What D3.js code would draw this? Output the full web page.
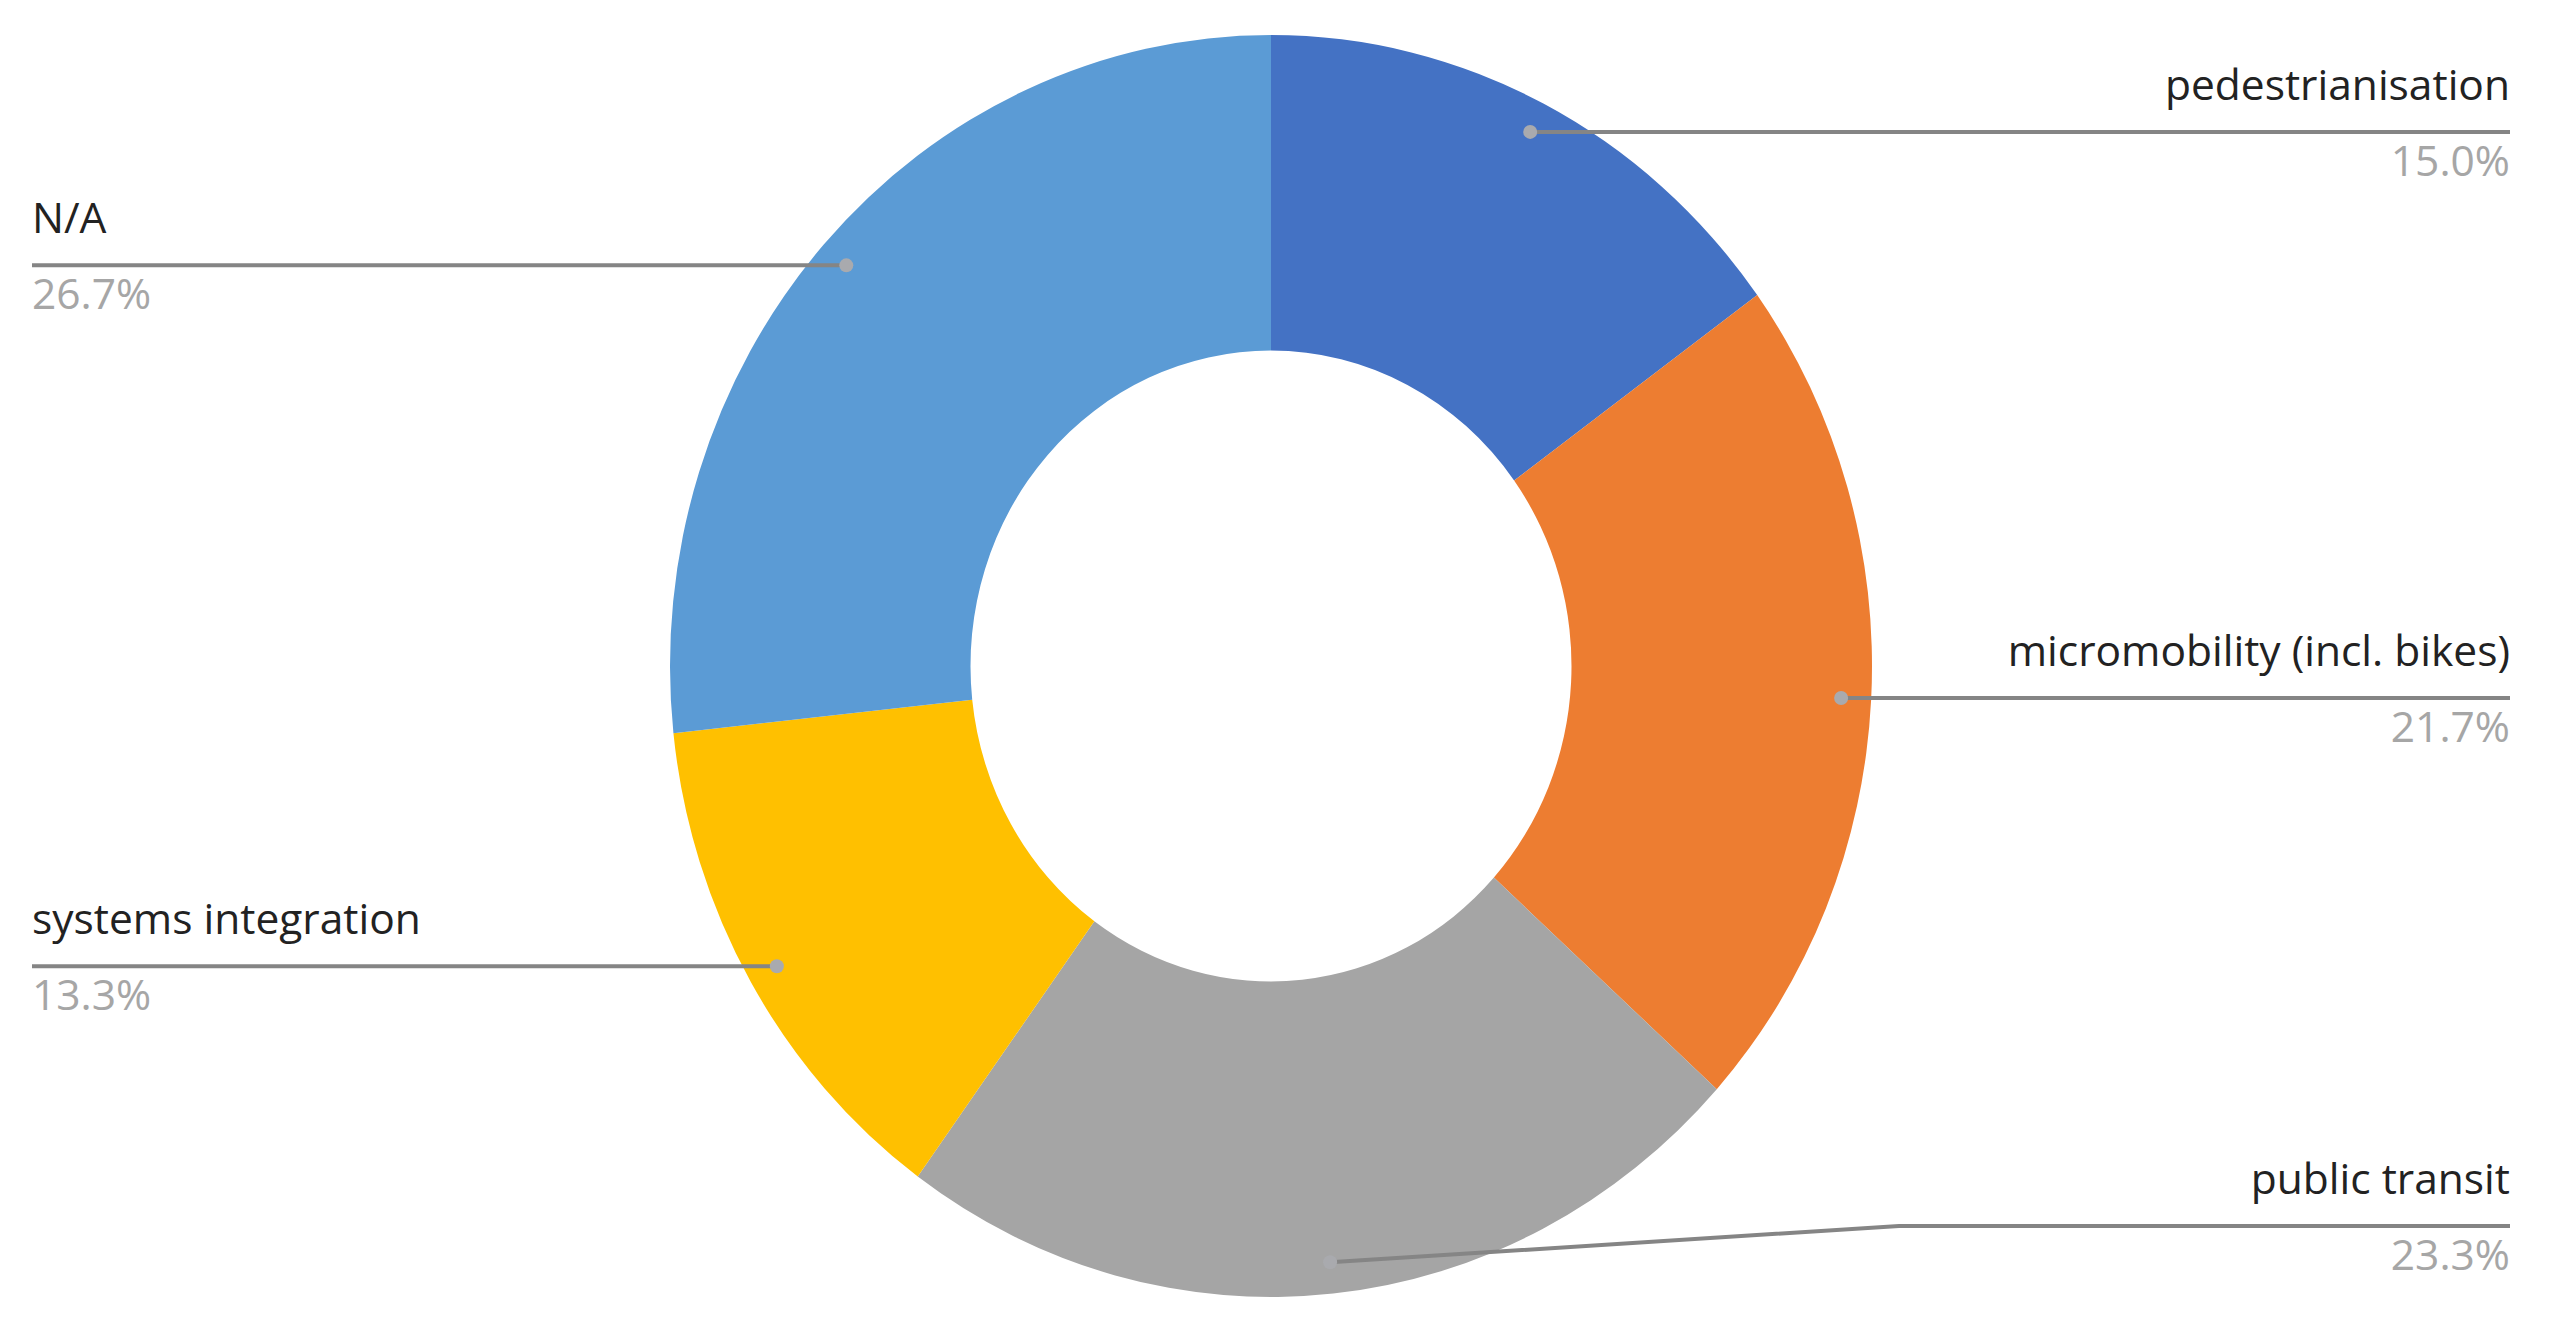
<!DOCTYPE html>
<html>
<head>
<meta charset="utf-8">
<script src="https://cdn.jsdelivr.net/npm/d3@7"></script>
<style>
  html, body { margin: 0; padding: 0; background: #ffffff; }
  svg { display: block; }
</style>
</head>
<body>
<svg id="chart" width="2556" height="1344"></svg>
<script>
// ---- data ----
const categories = ["pedestrianisation", "micromobility (incl. bikes)", "public transit", "systems integration", "N/A"];
const values = [15.0, 21.7, 23.3, 13.3, 26.7];
const percentLabels = ["15.0%", "21.7%", "23.3%", "13.3%", "26.7%"];
const colors = ["#4472C4", "#ED7D31", "#A5A5A5", "#FFC000", "#5B9BD5"];

// ---- layout ----
const W = 2556, H = 1344;
const cx = 1271, cy = 666;
const R = 601, ky = 631 / 601;   // reference donut is slightly taller than wide
const innerR = R * 0.5;
const leftX = 32, rightX = 2510;
const maxLabelY = 1226;
const elbowX = 1899;

const svg = d3.select("#chart");
svg.append("rect").attr("width", W).attr("height", H).attr("fill", "#fff");

const data = categories.map((c, i) => ({ name: c, value: values[i], pct: percentLabels[i], color: colors[i] }));
const pie = d3.pie().sort(null).value(d => d.value).startAngle(0).endAngle(2 * Math.PI);
const arcs = pie(data);
const arc = d3.arc().innerRadius(innerR).outerRadius(R);
const dotArc = d3.arc().innerRadius(R * 0.95).outerRadius(R * 0.95);

const g = svg.append("g").attr("transform", `translate(${cx},${cy}) scale(1,${ky})`);
g.selectAll("path.slice").data(arcs).join("path")
  .attr("class", "slice")
  .attr("d", arc)
  .attr("fill", d => d.data.color);

const font = "'Open Sans', Lato, sans-serif";
const fs = 42.5;

const lbl = svg.append("g");
arcs.forEach(d => {
  const c = dotArc.centroid(d);
  const px = cx + c[0], py = cy + c[1] * ky;
  const right = c[0] > 0;
  const ly = Math.min(py, maxLabelY);
  const pts = [[px, py]];
  if (ly !== py) pts.push([elbowX, ly]);
  pts.push([right ? rightX : leftX, ly]);
  lbl.append("path")
    .attr("d", d3.line()(pts))
    .attr("fill", "none")
    .attr("stroke", "#858585")
    .attr("stroke-width", 4);
  lbl.append("circle")
    .attr("cx", px).attr("cy", py).attr("r", 7)
    .attr("fill", "#a9aaae");
  const tx = right ? rightX : leftX;
  const anchor = right ? "end" : "start";
  lbl.append("text")
    .attr("x", tx).attr("y", ly - 32)
    .attr("text-anchor", anchor)
    .attr("font-family", font).attr("font-size", fs)
    .attr("fill", "#222222")
    .text(d.data.name);
  lbl.append("text")
    .attr("x", tx).attr("y", ly + 44)
    .attr("text-anchor", anchor)
    .attr("font-family", font).attr("font-size", fs)
    .attr("fill", "#a6a6a6")
    .text(d.data.pct);
});
</script>
</body>
</html>
